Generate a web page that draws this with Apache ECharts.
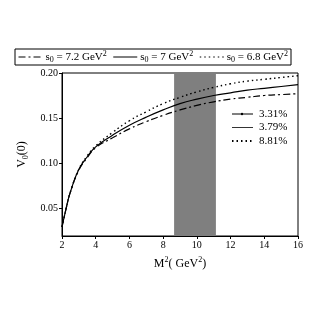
<!DOCTYPE html>
<html><head><meta charset="utf-8">
<script src="https://cdn.jsdelivr.net/npm/echarts@6/dist/echarts.min.js"></script>
<style>html,body{margin:0;padding:0;background:#fff}#c{width:327px;height:313px}</style>
</head><body><div id="c"></div>
<script>
var xs = [2, 2.25, 2.5, 3, 3.5, 4, 5, 6, 7, 8, 9, 10, 11, 12, 13, 14, 15, 16];
var ySolid = [0.029, 0.050, 0.068, 0.093, 0.107, 0.118, 0.131, 0.142, 0.151, 0.159, 0.166, 0.171, 0.175, 0.178, 0.181, 0.183, 0.185, 0.187];
var yDotted = [0.029, 0.050, 0.068, 0.093, 0.108, 0.119, 0.134, 0.147, 0.157, 0.166, 0.173, 0.179, 0.184, 0.188, 0.191, 0.193, 0.195, 0.197];
var yDashDot = [0.029, 0.050, 0.068, 0.092, 0.106, 0.117, 0.128, 0.138, 0.146, 0.153, 0.159, 0.164, 0.168, 0.171, 0.173, 0.175, 0.176, 0.177];
var seriesNames = ['s0 = 7.2 GeV2', 's0 = 7 GeV2', 's0 = 6.8 GeV2'];
var s0Values = ['7.2', '7', '6.8'];
var band = [8.65, 11.13];
var yTicks = [0.05, 0.10, 0.15, 0.20];
var errLabels = ['3.31%', '3.79%', '8.81%'];

function pair(y) { return xs.map(function (x, i) { return [x, y[i]]; }); }
var serif = 'Liberation Serif, Times New Roman, serif';
var chart = echarts.init(document.getElementById('c'));
var styles = [
  { type: [7, 3, 2, 3], width: 1.2 },
  { type: 'solid', width: 1.2 },
  { type: [1.5, 3], width: 1.4 }
];
var data = [yDashDot, ySolid, yDotted];
var series = [{
  type: 'line', name: 'band', data: [], silent: true,
  markArea: { silent: true, itemStyle: { color: '#7f7f7f' }, data: [[{ xAxis: band[0] }, { xAxis: band[1] }]] }
}];
seriesNames.forEach(function (n, i) {
  series.push({ type: 'line', name: n, data: pair(data[i]), smooth: true, symbol: 'none', showSymbol: false, z: 5,
    lineStyle: Object.assign({ color: '#000' }, styles[i]), itemStyle: { color: '#000' } });
});
var rich = {
  n: { fontFamily: serif, fontSize: 11, color: '#000' },
  sub: { fontFamily: serif, fontSize: 8, color: '#000', padding: [6, 0, 0, 0] },
  sup: { fontFamily: serif, fontSize: 8, color: '#000', padding: [0, 0, 6, 0] }
};
var gl = [];
errLabels.forEach(function (t, i) {
  var y = 114 + i * 13.5;
  var ls = i === 0 ? { stroke: '#000', lineWidth: 1 } : (i === 1 ? { stroke: '#000', lineWidth: 0.8 } : { stroke: '#000', lineWidth: 2, lineDash: [1.5, 3] });
  gl.push({ type: 'line', shape: { x1: 232, y1: y, x2: 253, y2: y }, style: ls });
  if (i === 0) gl.push({ type: 'circle', shape: { cx: 242, cy: y, r: 1.2 }, style: { fill: '#000' } });
  gl.push({ type: 'text', x: 259, y: y, style: { text: t, font: '11px ' + serif, fill: '#000', verticalAlign: 'middle' } });
});
chart.setOption({
  animation: false,
  grid: { left: 62, right: 29, top: 73, bottom: 77, show: true, borderColor: '#000', borderWidth: 1 },
  legend: {
    data: seriesNames, left: 15, top: 49, itemWidth: 24, itemHeight: 10, itemGap: 6,
    borderColor: '#000', borderWidth: 1, padding: [1, 3, 1, 3], borderRadius: 0,
    itemStyle: { opacity: 0, borderWidth: 0 },
    lineStyle: { width: 1 },
    formatter: function (name) { var i = seriesNames.indexOf(name); return '{n|s}{sub|0}{n| = ' + s0Values[i] + ' GeV}{sup|2}'; },
    textStyle: { rich: rich, padding: [0, 0, 0, -2] }
  },
  xAxis: {
    type: 'value', min: 2, max: 16, interval: 2,
    axisLine: { lineStyle: { color: '#000' } }, axisTick: { inside: false, length: 3, lineStyle: { color: '#000' } },
    splitLine: { show: false },
    axisLabel: { fontFamily: serif, fontSize: 10, color: '#000', margin: 4 },
    name: '{n|M}{sup|2}{n|( GeV}{sup|2}{n|)}', nameLocation: 'middle', nameGap: 20,
    nameTextStyle: { rich: { n: { fontFamily: serif, fontSize: 12, color: '#000' }, sup: { fontFamily: serif, fontSize: 8, color: '#000', padding: [0, 0, 7, 0] } } }
  },
  yAxis: {
    type: 'value', min: 0.019, max: 0.20,
    axisLine: { show: true, lineStyle: { color: '#000' } },
    axisTick: { show: true, length: 3, customValues: yTicks, lineStyle: { color: '#000' } },
    splitLine: { show: false },
    axisLabel: { fontFamily: serif, fontSize: 10, color: '#000', margin: 4, customValues: yTicks, formatter: function (v) { return v.toFixed(2); } },
    name: '{n|V}{sub|0}{n|(0)}', nameLocation: 'middle', nameGap: 30, nameRotate: 90,
    nameTextStyle: { rich: { n: { fontFamily: serif, fontSize: 12, color: '#000' }, sub: { fontFamily: serif, fontSize: 8, color: '#000', padding: [7, 0, 0, 0] } } }
  },
  graphic: gl,
  series: series
});
</script></body></html>
